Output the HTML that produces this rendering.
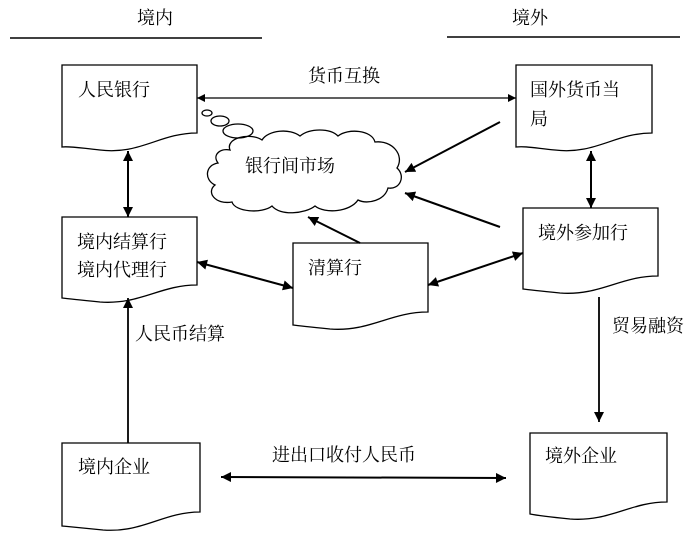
<!DOCTYPE html>
<html><head><meta charset="utf-8"><style>
html,body{margin:0;padding:0;background:#fff;}
svg{display:block;}
text{font-family:"Liberation Serif","Noto Serif CJK SC","Noto Sans CJK SC",serif;font-size:18px;fill:#000;}
</style></head><body>
<svg width="700" height="539" viewBox="0 0 700 539" xmlns="http://www.w3.org/2000/svg">
<defs>
<marker id="a" viewBox="0 0 10 10" refX="10" refY="5" markerWidth="8" markerHeight="8" markerUnits="userSpaceOnUse" orient="auto-start-reverse">
<path d="M0,0 L10,5 L0,10 z" fill="#000"/></marker>
<marker id="b" viewBox="0 0 10 10" refX="10" refY="5" markerWidth="12" markerHeight="10" markerUnits="userSpaceOnUse" orient="auto-start-reverse">
<path d="M0,0 L10,5 L0,10 z" fill="#000"/></marker>
</defs>
<g fill="none" stroke="#000" stroke-width="1.3">
<line x1="10" y1="38" x2="262" y2="38" stroke-width="1.5"/>
<line x1="447" y1="37" x2="680" y2="37" stroke-width="1.5"/>
<path d="M62,65 H197 V133 C160,133 140,155 100,150 C80,148 70,146 62,147 Z"/>
<path d="M62,217 H197 V285 C160,285 140,305 100,302 C80,300 70,299 62,298 Z"/>
<path d="M293,243 H428 V312 C390,312 370,332 330,329 C310,327 300,326 293,325 Z"/>
<path d="M516,65 H652 V133 C615,133 595,155 555,150 C535,148 525,146 516,147 Z"/>
<path d="M523,208 H658 V276 C620,276 600,296 560,293 C540,291 530,290 523,289 Z"/>
<path d="M62,443 H200 V512 C163,512 143,533 103,530 C83,528 73,527 62,526 Z"/>
<path d="M530,433 H667 V502 C630,502 610,522 570,519 C550,517 540,516 530,514 Z"/>
<ellipse cx="207" cy="113" rx="5" ry="3"/>
<ellipse cx="220" cy="121" rx="9" ry="5"/>
<ellipse cx="238" cy="131" rx="15" ry="7"/>
<path d="M230,150 C225,138 250,132 262,140 C268,130 290,128 300,136 C310,128 330,128 338,136 C348,128 372,130 375,142 C392,140 405,155 397,168 C406,176 400,190 388,188 C385,200 368,205 358,200 C350,212 325,214 315,206 C305,214 280,216 272,206 C262,214 235,212 232,202 C215,205 206,192 215,185 C204,180 205,165 218,163 C212,155 220,148 230,150 Z"/>
<line x1="197" y1="98" x2="516" y2="98" marker-start="url(#a)" marker-end="url(#a)"/>
<line x1="128" y1="151" x2="128" y2="217" stroke-width="2" marker-start="url(#b)" marker-end="url(#b)"/>
<line x1="591" y1="151" x2="591" y2="208" stroke-width="2" marker-start="url(#b)" marker-end="url(#b)"/>
<line x1="500" y1="122" x2="405" y2="172" stroke-width="2" marker-end="url(#b)"/>
<line x1="500" y1="227" x2="405" y2="193" stroke-width="2" marker-end="url(#b)"/>
<line x1="360" y1="243" x2="308" y2="217" stroke-width="2" marker-end="url(#b)"/>
<line x1="197" y1="262" x2="293" y2="288" stroke-width="2" marker-start="url(#b)" marker-end="url(#b)"/>
<line x1="428" y1="285" x2="523" y2="253" stroke-width="2" marker-start="url(#b)" marker-end="url(#b)"/>
<line x1="128" y1="443" x2="128" y2="298" stroke-width="1.8" marker-end="url(#b)"/>
<line x1="599" y1="297" x2="599" y2="422" stroke-width="1.8" marker-end="url(#b)"/>
<line x1="221" y1="477" x2="506" y2="478" stroke-width="2" marker-start="url(#b)" marker-end="url(#b)"/>
</g>
<text x="155" y="24" text-anchor="middle">境内</text>
<text x="530" y="24" text-anchor="middle">境外</text>
<text x="78" y="96">人民银行</text>
<text x="308" y="82">货币互换</text>
<text x="530" y="96">国外货币当</text>
<text x="530" y="125">局</text>
<text x="245" y="172">银行间市场</text>
<text x="77" y="248">境内结算行</text>
<text x="77" y="276">境内代理行</text>
<text x="308" y="274">清算行</text>
<text x="538" y="239">境外参加行</text>
<text x="135" y="340">人民币结算</text>
<text x="612" y="332">贸易融资</text>
<text x="78" y="473">境内企业</text>
<text x="272" y="461">进出口收付人民币</text>
<text x="545" y="462">境外企业</text>
</svg>
</body></html>
